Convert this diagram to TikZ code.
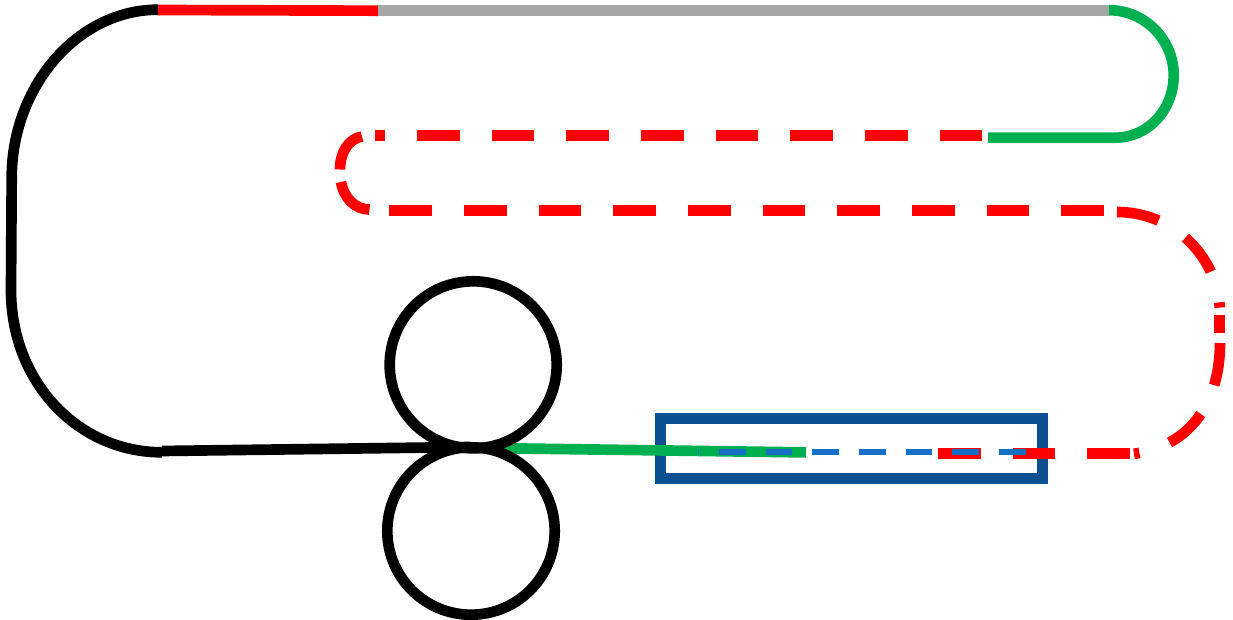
\documentclass[tikz,border=0pt]{standalone}
\definecolor{fibregreen}{RGB}{0,176,80}
\definecolor{fibregray}{RGB}{166,166,166}
\definecolor{framebl}{RGB}{11,80,145}
\definecolor{dashbl}{RGB}{21,112,197}
\tikzset{
  fibre/.style={line width=10.67pt,line cap=butt,line join=round},
  reddash/.style={fibre,draw=red,dash pattern=on 42.67pt off 32pt},
  redpiece/.style={fibre,draw=red},
  bluedash/.style={line width=6.3pt,draw=dashbl,dash pattern=on 26.67pt off 20pt,dash phase=25.7pt},
}
\begin{document}
\begin{tikzpicture}[x=1pt,y=-1pt]
\useasboundingbox (0,0) rectangle (1233,620);
\clip (0,0) rectangle (1233,620);
% black fibre
\draw[fibre,black] (470,447) -- (162,451);
\draw[fibre,black] (162,452.3) .. controls (78,452.3) and (11,382) .. (11,290)
  -- (11.7,178) .. controls (11.7,86) and (78,9.7) .. (158,9.7);
% top solid run
\draw[fibre,red] (158,10) -- (378,10.7);
\draw[fibre,fibregray] (378,10.2) -- (1108.5,10.2);
\draw[fibre,fibregreen] (1109,10.2) .. controls (1145,10.2) and (1173.7,40) .. (1173.7,75)
  .. controls (1173.7,110) and (1148,137.7) .. (1115,137.7) -- (988,137.7);
% frame
\draw[line width=10.67pt,draw=framebl] (660.5,418.5) rectangle (1042.5,478.5);
% red dashed run
\draw[reddash] (982.3,135.3) -- (375,135.3);
\draw[redpiece] (362,136.5) .. controls (348,139) and (340,153) .. (340,169.5);
\draw[redpiece] (341,182) .. controls (344,198) and (355,209.5) .. (369.5,209.5);
\draw[reddash] (389.3,210.5) -- (1104.3,210.5);
\draw[reddash] (1117,212) arc[start angle=-90,end angle=-3.6,x radius=103,y radius=102];
\draw[redpiece] (1219.5,315) -- (1219.5,333);
\draw[reddash] (1220,343) .. controls (1220,400) and (1192,446) .. (1134,453.8);
\draw[reddash] (1130,453.3) -- (938,453.3);
% green fibre
\draw[fibre,fibregreen] (470,447.8) -- (806,452.4);
% blue dashed
\draw[bluedash] (698,452) -- (1026,452);
% coils
\draw[fibre,black] (473.2,364.8) circle[radius=83.5];
\draw[fibre,black] (471,531) circle[radius=83.7];
\end{tikzpicture}
\end{document}
